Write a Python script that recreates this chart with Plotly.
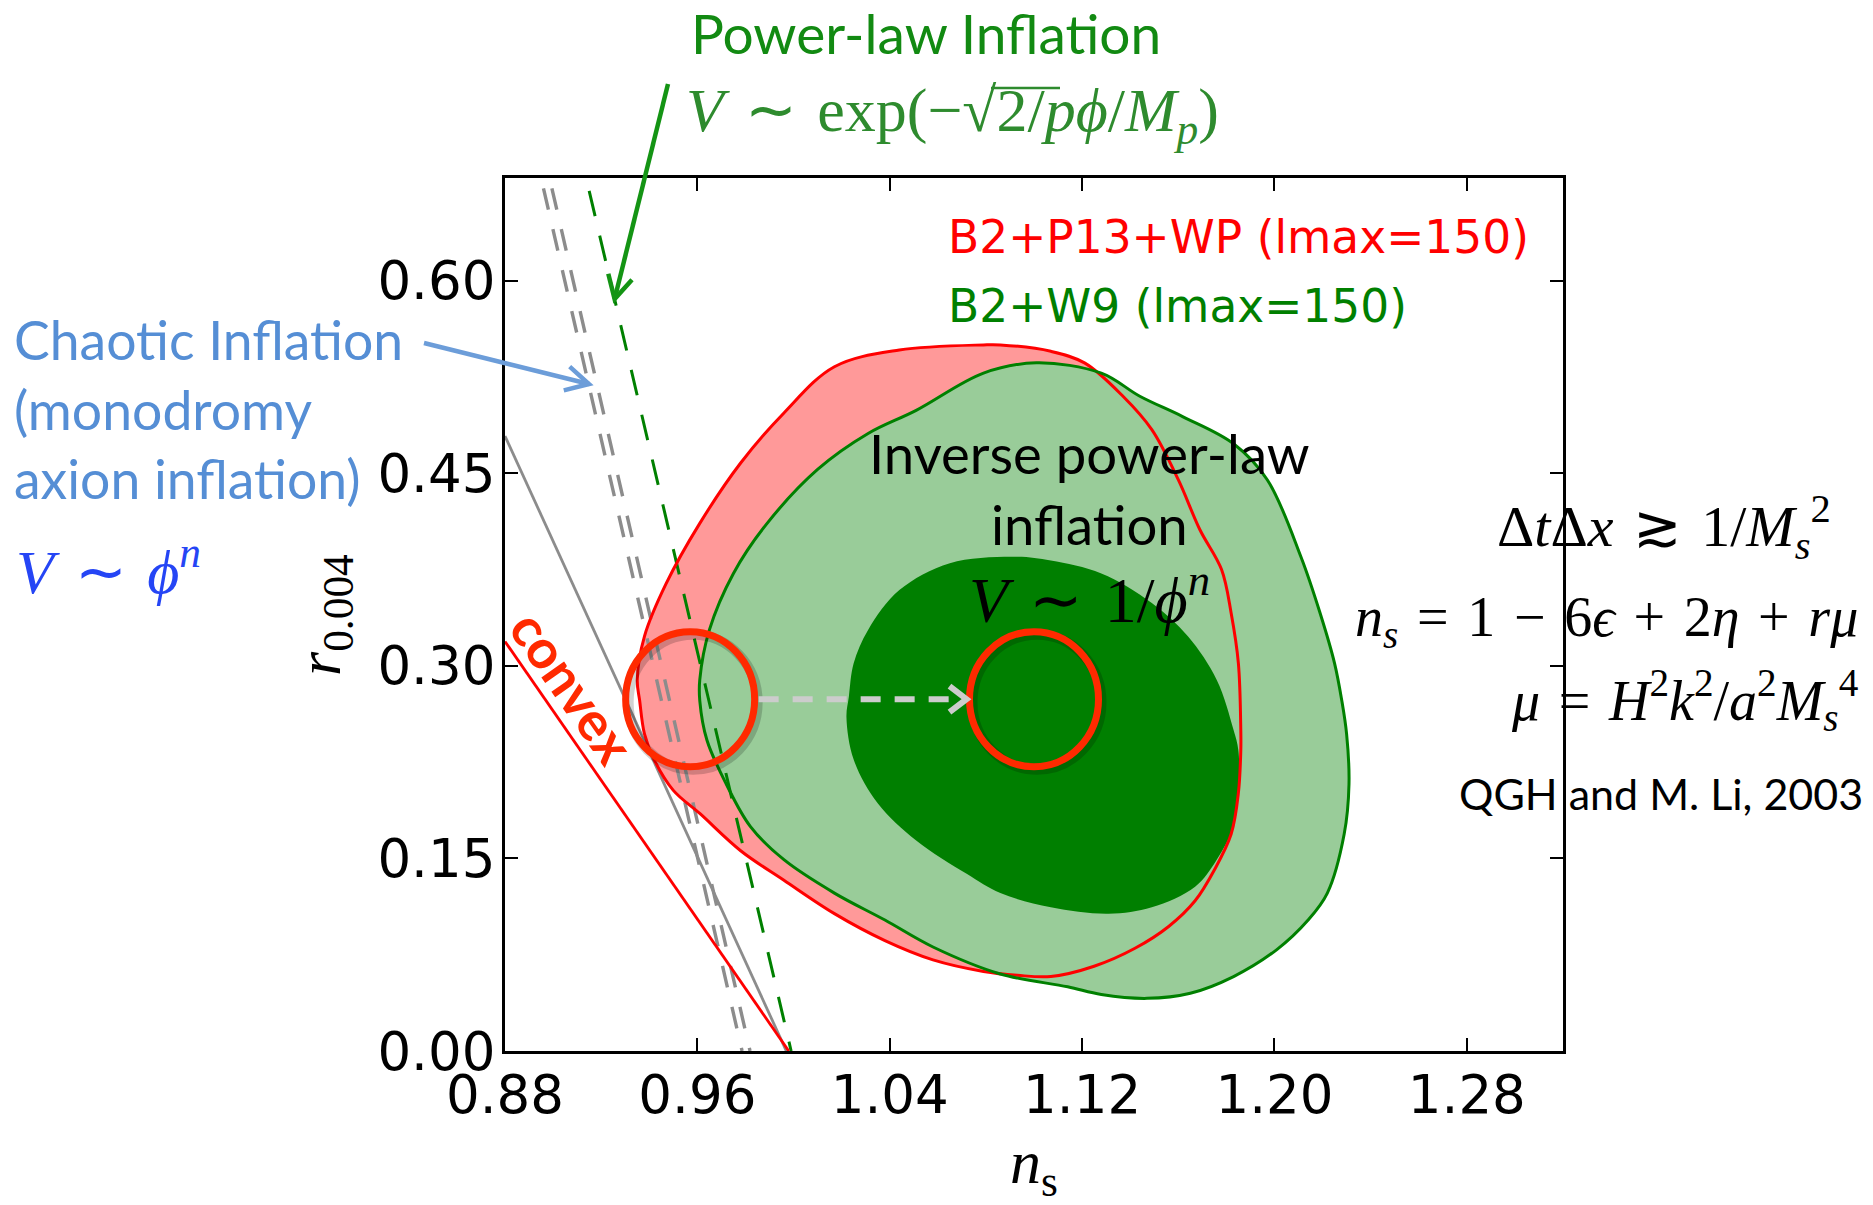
import math
import plotly.graph_objects as go

# ---------------- data: (n_s, r_0.004) ----------------
# B2+P13+WP outer (95%) contour
red_ns = [1.079, 1.086, 1.107, 1.121, 1.137, 1.149, 1.160, 1.169, 1.178, 1.182, 1.185, 1.186,
          1.186, 1.185, 1.182, 1.175, 1.167, 1.156, 1.142, 1.125, 1.107, 1.093, 1.079, 1.058,
          1.038, 1.017, 0.996, 0.978, 0.961, 0.950, 0.942, 0.938, 0.936, 0.935, 0.938, 0.947,
          0.961, 0.978, 0.996, 1.017, 1.044]
red_r = [0.550, 0.550, 0.545, 0.536, 0.510, 0.484, 0.445, 0.406, 0.375, 0.341, 0.302, 0.250,
         0.234, 0.201, 0.169, 0.141, 0.117, 0.097, 0.080, 0.066, 0.058, 0.059, 0.062, 0.071,
         0.086, 0.107, 0.133, 0.156, 0.185, 0.203, 0.227, 0.247, 0.273, 0.289, 0.323, 0.364,
         0.411, 0.458, 0.497, 0.533, 0.546]

# B2+W9 outer (95%) contour
green_ns = [1.101, 1.128, 1.144, 1.162, 1.183, 1.197, 1.211, 1.219, 1.225, 1.228, 1.230, 1.231,
            1.229, 1.222, 1.214, 1.201, 1.183, 1.165, 1.147, 1.128, 1.114, 1.086, 1.058, 1.038,
            1.017, 0.996, 0.982, 0.972, 0.964, 0.961, 0.961, 0.965, 0.975, 0.989, 1.010, 1.031,
            1.051, 1.079]
green_r = [0.536, 0.528, 0.510, 0.494, 0.473, 0.445, 0.385, 0.341, 0.302, 0.273, 0.247, 0.208,
           0.169, 0.123, 0.102, 0.079, 0.058, 0.045, 0.041, 0.044, 0.050, 0.060, 0.081, 0.102,
           0.123, 0.149, 0.175, 0.208, 0.242, 0.273, 0.289, 0.328, 0.372, 0.411, 0.453, 0.481,
           0.499, 0.528]

# B2+W9 inner (68%) contour
green_in_ns = [1.093, 1.107, 1.128, 1.149, 1.164, 1.176, 1.183, 1.185, 1.185, 1.183, 1.176, 1.167,
               1.149, 1.131, 1.107, 1.086, 1.072, 1.051, 1.035, 1.025, 1.022, 1.023, 1.025, 1.031,
               1.044, 1.065]
green_in_r = [0.385, 0.382, 0.372, 0.349, 0.323, 0.289, 0.250, 0.234, 0.201, 0.175, 0.149, 0.128,
              0.112, 0.107, 0.112, 0.123, 0.138, 0.164, 0.193, 0.227, 0.260, 0.276, 0.302, 0.328,
              0.359, 0.380]

# model predictions
chaotic_a_ns = [0.896, 0.9786]
chaotic_a_r = [0.672, 0.0]
chaotic_b_ns = [0.8995, 0.9819]
chaotic_b_r = [0.672, 0.0]
powerlaw_ns = [0.915, 0.999]
powerlaw_r = [0.670, 0.0]
gray_ns = [0.88, 0.997]
gray_r = [0.479, 0.0]
convex_ns = [0.88, 0.998]
convex_r = [0.319, 0.0]

# highlighted regions (centre n_s, centre r)
shift_from = (0.957, 0.274)
shift_to = (1.100, 0.274)

x_ticks = [0.88, 0.96, 1.04, 1.12, 1.20, 1.28]
x_labels = ["0.88", "0.96", "1.04", "1.12", "1.20", "1.28"]
y_ticks = [0.0, 0.15, 0.30, 0.45, 0.60]
y_labels = ["0.00", "0.15", "0.30", "0.45", "0.60"]

# ---------------- geometry ----------------
W, H = 1873, 1205
L, R, T, B = 505, 1563, 178, 1051
XR = [0.88, 1.32]
YR = [0.0, 0.68]
SX = (R - L) / (XR[1] - XR[0])   # px per unit n_s
SY = (B - T) / (YR[1] - YR[0])   # px per unit r


def px(xpix):
    return (xpix - L) / (R - L)


def py(ypix):
    return (B - ypix) / (B - T)


def closed(a):
    return list(a) + [a[0]]


SMOOTH = 1.0
fig = go.Figure()

# filled contours
fig.add_trace(go.Scatter(x=closed(red_ns), y=closed(red_r), mode="lines", fill="toself",
                         fillcolor="#FF9999", line=dict(width=0, shape="spline", smoothing=SMOOTH),
                         hoverinfo="skip", showlegend=False))
fig.add_trace(go.Scatter(x=closed(green_ns), y=closed(green_r), mode="lines", fill="toself",
                         fillcolor="#99CC99", line=dict(width=0, shape="spline", smoothing=SMOOTH),
                         hoverinfo="skip", showlegend=False))
fig.add_trace(go.Scatter(x=closed(green_in_ns), y=closed(green_in_r), mode="lines", fill="toself",
                         fillcolor="#007F00", line=dict(width=0, shape="spline", smoothing=SMOOTH),
                         hoverinfo="skip", showlegend=False))

# model lines
for xs, ys in ((chaotic_a_ns, chaotic_a_r), (chaotic_b_ns, chaotic_b_r)):
    fig.add_trace(go.Scatter(x=xs, y=ys, mode="lines",
                             line=dict(color="#8C8C8C", width=3.4, dash="22px,20px"),
                             hoverinfo="skip", showlegend=False))
fig.add_trace(go.Scatter(x=powerlaw_ns, y=powerlaw_r, mode="lines",
                         line=dict(color="#008000", width=3, dash="26px,20px"),
                         hoverinfo="skip", showlegend=False))
fig.add_trace(go.Scatter(x=gray_ns, y=gray_r, mode="lines",
                         line=dict(color="#8C8C8C", width=2.8),
                         hoverinfo="skip", showlegend=False))
fig.add_trace(go.Scatter(x=convex_ns, y=convex_r, mode="lines",
                         line=dict(color="#FF0000", width=2.8),
                         hoverinfo="skip", showlegend=False))

# contour edges
fig.add_trace(go.Scatter(x=closed(red_ns), y=closed(red_r), mode="lines",
                         line=dict(color="#FF0000", width=3, shape="spline", smoothing=SMOOTH),
                         hoverinfo="skip", showlegend=False))
fig.add_trace(go.Scatter(x=closed(green_ns), y=closed(green_r), mode="lines",
                         line=dict(color="#008000", width=3, shape="spline", smoothing=SMOOTH),
                         hoverinfo="skip", showlegend=False))

# ---------------- shapes ----------------
shapes = []
rx_c = 64.5 / SX
ry_c = 67.5 / SY
for (cx, cy) in (shift_from, shift_to):
    # soft drop shadow
    shapes.append(dict(type="circle", xref="x", yref="y",
                       x0=cx - rx_c + 3 / SX, x1=cx + rx_c + 3 / SX,
                       y0=cy - ry_c - 3 / SY, y1=cy + ry_c - 3 / SY,
                       line=dict(color="rgba(0,0,0,0.18)", width=10)))
    shapes.append(dict(type="circle", xref="x", yref="y",
                       x0=cx - rx_c, x1=cx + rx_c, y0=cy - ry_c, y1=cy + ry_c,
                       line=dict(color="#FF2A00", width=7)))

# dashed shift arrow between the two circles
a_x0 = shift_from[0] + rx_c + 4 / SX
a_x1 = shift_to[0] - rx_c - 3 / SX
shapes.append(dict(type="line", xref="x", yref="y", x0=a_x0, x1=a_x1 - 4 / SX,
                   y0=shift_from[1], y1=shift_to[1],
                   line=dict(color="#CCCCCC", width=6, dash="20px,14px")))
shapes.append(dict(type="path", xref="x", yref="y",
                   path=f"M {a_x1 - 17 / SX},{shift_to[1] + 13 / SY} L {a_x1},{shift_to[1]} "
                        f"L {a_x1 - 17 / SX},{shift_to[1] - 13 / SY}",
                   line=dict(color="#CCCCCC", width=6)))


def arrow(p0, p1, color, width, head=26, ang=28):
    """Straight arrow with an open chevron head, given in pixel positions."""
    out = [dict(type="line", xref="paper", yref="paper",
                x0=px(p0[0]), y0=py(p0[1]), x1=px(p1[0]), y1=py(p1[1]),
                line=dict(color=color, width=width))]
    dx, dy = p1[0] - p0[0], p1[1] - p0[1]
    n = math.hypot(dx, dy)
    ux, uy = -dx / n, -dy / n
    pts = []
    for s in (1, -1):
        a = math.radians(ang) * s
        bx = ux * math.cos(a) - uy * math.sin(a)
        by = ux * math.sin(a) + uy * math.cos(a)
        pts.append((p1[0] + head * bx, p1[1] + head * by))
    path = (f"M {px(pts[0][0])},{py(pts[0][1])} L {px(p1[0])},{py(p1[1])} "
            f"L {px(pts[1][0])},{py(pts[1][1])}")
    out.append(dict(type="path", xref="paper", yref="paper", path=path,
                    line=dict(color=color, width=width)))
    return out


shapes += arrow((668, 84), (614.6, 299), "#149414", 4.5)
shapes += arrow((424, 343), (589, 384), "#6C9DD9", 4.5)

# vinculum of the square root in the power-law potential
shapes.append(dict(type="line", xref="paper", yref="paper",
                   x0=px(991), x1=px(1060), y0=py(88), y1=py(88),
                   line=dict(color="#2E8B2E", width=2.5)))

# ---------------- text ----------------
SANS = "Lato"
SERIF = "Liberation Serif"
SP = "\u2004"   # a slightly wider space around relations and operators
ann = []


def text(x, y, s, size, color="black", family=SANS, xanchor="left", yanchor="middle",
         angle=0, align="left"):
    ann.append(dict(x=px(x), y=py(y), xref="paper", yref="paper", text=s, showarrow=False,
                    xanchor=xanchor, yanchor=yanchor, textangle=angle, align=align,
                    font=dict(family=family, size=size, color=color)))


text(689, 33, "Power-law Inflation", 55, "#128A12")
text(684, 114, f"<i>V</i>{SP}∼{SP}exp(−√2/<i>p</i><i>ϕ</i>/<i>M<sub>p</sub></i>)",
     62, "#2E8B2E", SERIF)

text(946, 238, "B2+P13+WP (lmax=150)", 45.5, "#FF0000", "DejaVu Sans")
text(946, 306, "B2+W9 (lmax=150)", 45.5, "#008000", "DejaVu Sans")

text(12, 408, "Chaotic Inflation<br>(monodromy<br>axion inflation)", 53.5, "#558ED5")
text(14, 567, f"<i>V</i>{SP}∼{SP}<i>ϕ</i><sup><i>n</i></sup>", 62, "#2545F5", SERIF)

text(1089, 489, "Inverse power-law<br>inflation", 54.5, "black", xanchor="center", align="center")
text(1089, 595, f"<i>V</i>{SP}∼{SP}1/<i>ϕ</i><sup><i>n</i></sup>", 64, "black", SERIF,
     xanchor="center")

text(573, 686, "<b>convex</b>", 54, "#FF2A00", angle=55, xanchor="center")

text(1833, 527, f"Δ<i>t</i>Δ<i>x</i>{SP}≳{SP}1/<i>M</i><sub><i>s</i></sub><sup>2</sup>", 58,
     "black", SERIF, xanchor="right")
text(1860, 621, f"<i>n<sub>s</sub></i>{SP}={SP}1{SP}−{SP}6<i>ϵ</i>{SP}+{SP}2<i>η</i>{SP}+{SP}<i>rμ</i>",
     56, "black", SERIF, xanchor="right")
text(1860, 700, f"<i>μ</i>{SP}={SP}<i>H</i><sup>2</sup><i>k</i><sup>2</sup>/<i>a</i><sup>2</sup>"
     "<i>M</i><sub><i>s</i></sub><sup>4</sup>", 56, "black", SERIF, xanchor="right")
text(1865, 793, "QGH and M. Li, 2003", 43, "black", xanchor="right")

# axis titles
text(1034, 1166, "<i>n</i><sub>s</sub>", 62, "black", SERIF, xanchor="center")
text(323, 615, "<i>r</i><sub>0.004</sub>", 62, "black", SERIF, xanchor="center", angle=-90)

axis_common = dict(showgrid=False, zeroline=False, showline=True, linecolor="black",
                   linewidth=3, mirror="ticks", ticks="inside", ticklen=13, tickwidth=1.5,
                   tickcolor="black",
                   tickfont=dict(family="DejaVu Sans", size=53, color="black"))

fig.update_layout(
    width=W, height=H,
    margin=dict(l=L, r=W - R, t=T, b=H - B, autoexpand=False),
    paper_bgcolor="white", plot_bgcolor="white",
    showlegend=False,
    xaxis=dict(range=XR, tickvals=x_ticks, ticktext=x_labels, ticklabelstandoff=-5,
               **axis_common),
    yaxis=dict(range=YR, tickvals=y_ticks, ticktext=y_labels, ticklabelstandoff=-4,
               **axis_common),
    shapes=shapes,
    annotations=ann,
)

fig.write_html("out.html")
